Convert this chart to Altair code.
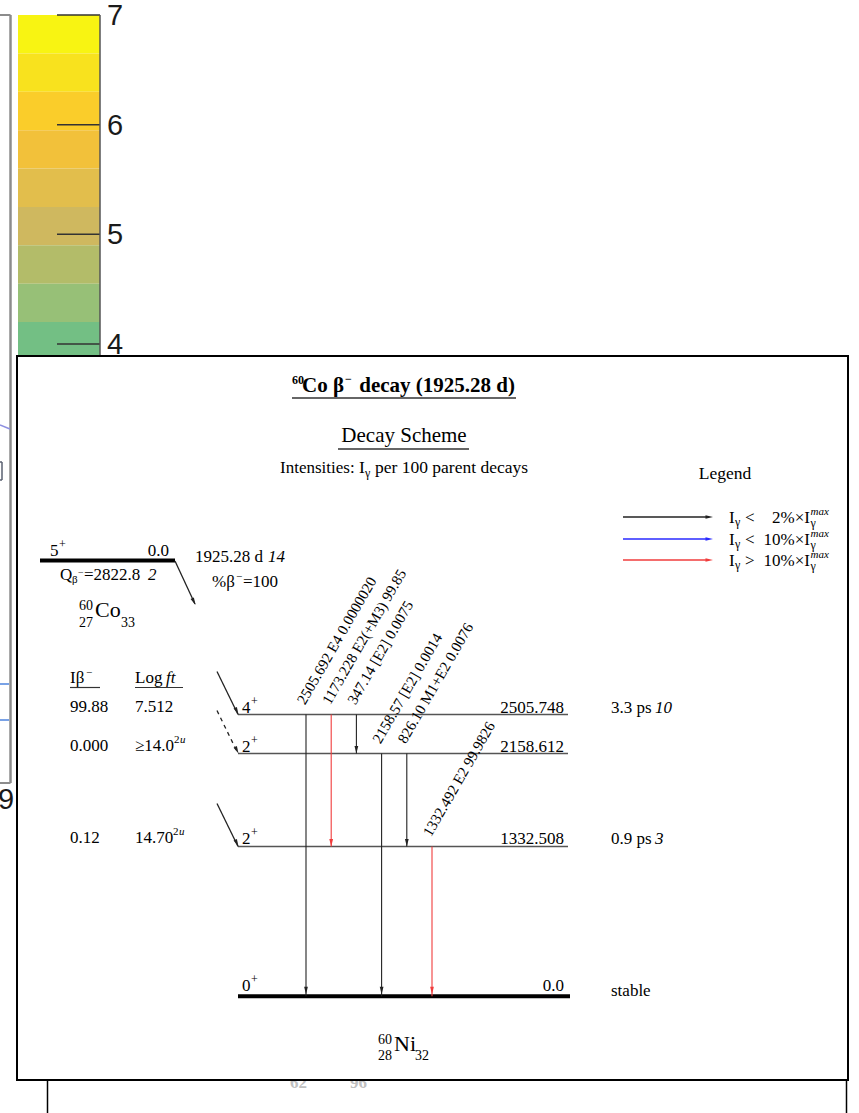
import altair as alt
import pandas as pd

W, H = 859, 1113
SERIF = "Liberation Serif"
SANS = "Liberation Sans"

# ======================= DATA =======================
cbar_ticks = [7, 6, 5, 4]
cbar_band_edges = [7.0, 6.65, 6.30, 5.95, 5.60, 5.25, 4.90, 4.55, 4.20, 3.85]
cbar_band_colors = ["#F8F412", "#F8E21E", "#FACD2A", "#F2C13A", "#E2BE4C",
                    "#CFB85F", "#B3BC69", "#97C077", "#73BF84"]

parent_spin = "5"
parent_level = "0.0"
parent_q = "2822.8"
parent_q_unc = "2"
parent_halflife = "1925.28 d"
parent_halflife_unc = "14"
parent_branch = "100"

level_energy = [2505.748, 2158.612, 1332.508, 0.0]
level_energy_txt = ["2505.748", "2158.612", "1332.508", "0.0"]
level_spin = ["4", "2", "2", "0"]
level_halflife = ["3.3 ps", "", "0.9 ps", "stable"]
level_halflife_unc = ["10", "", "3", ""]

beta_intensity = ["99.88", "0.000", "0.12"]
beta_logft = ["7.512", "\u226514.0", "14.70"]
beta_logft_sup = ["", "2", "2"]
beta_dashed = [False, True, False]

gamma_energy = ["2505.692", "1173.228", "347.14", "2158.57", "826.10", "1332.492"]
gamma_mult = ["E4", "E2(+M3)", "[E2]", "[E2]", "M1+E2", "E2"]
gamma_intensity = ["0.0000020", "99.85", "0.0075", "0.0014", "0.0076", "99.9826"]
gamma_from = [2505.748, 2505.748, 2505.748, 2158.612, 2158.612, 1332.508]
gamma_to = [0.0, 1332.508, 2158.612, 0.0, 1332.508, 0.0]

legend_ops = ["<", "<", ">"]
legend_pct = ["2%\u00d7I", "10%\u00d7I", "10%\u00d7I"]
legend_colors = ["#222222", "#2a2aff", "#f03c3c"]

# ======================= LAYOUT =======================
PX_E0, PX_ETOP = 996.3, 714.5          # pixel rows of 0 keV and the top level
k_e = (PX_E0 - PX_ETOP) / level_energy[0]
E_DOM = [-(H - PX_E0) / k_e, PX_E0 / k_e]
CB_PX_PER = (344 - 15) / 3.0
cb_top = 7 + 15 / CB_PX_PER
C_DOM = [cb_top - H / CB_PX_PER, cb_top]


def yscale(kind):
    if kind == "px":
        return alt.Scale(domain=[0, H], reverse=True, nice=False, zero=False)
    if kind == "E":
        return alt.Scale(domain=E_DOM, nice=False, zero=False)
    return alt.Scale(domain=C_DOM, nice=False, zero=False)


def X(f):
    return alt.X(f, type="quantitative", scale=alt.Scale(domain=[0, W], nice=False, zero=False), axis=None)


def Y(kind, f):
    return alt.Y(f, type="quantitative", scale=yscale(kind), axis=None)


def rule_layer(rows, kind, **mk):
    df = pd.DataFrame(rows, columns=["x", "x2", "y", "y2", "color", "w"])
    return alt.Chart(df).mark_rule(**mk).encode(
        x=X("x"), x2=alt.X2("x2"), y=Y(kind, "y"), y2=alt.Y2("y2"),
        color=alt.Color("color:N", scale=None),
        strokeWidth=alt.StrokeWidth("w:Q", scale=None))


HEAD = "M0,0L-0.5,-2L0.5,-2Z"


def head_layer(rows, kind, **mk):
    df = pd.DataFrame(rows, columns=["x", "y", "angle", "color"])
    return alt.Chart(df).mark_point(shape=HEAD, filled=True, opacity=1, size=56, strokeWidth=0, **mk).encode(
        x=X("x"), y=Y(kind, "y"),
        angle=alt.Angle("angle:Q", scale=None),
        color=alt.Color("color:N", scale=None))


def rect_layer(rows, kind, **mk):
    df = pd.DataFrame(rows, columns=["x", "x2", "y", "y2", "color"])
    return alt.Chart(df).mark_rect(**mk).encode(
        x=X("x"), x2=alt.X2("x2"), y=Y(kind, "y"), y2=alt.Y2("y2"),
        fill=alt.Fill("color:N", scale=None))


def text_layers(items):
    out = []
    df = pd.DataFrame(items)
    keys = ["kind", "align", "baseline", "font", "style", "weight", "yoff", "angle"]
    for key, g in df.groupby(keys, sort=False):
        kd = dict(zip(keys, key))
        mk = dict(font=kd["font"], fontStyle=kd["style"], fontWeight=kd["weight"],
                  align=kd["align"], baseline=kd["baseline"])
        if kd["yoff"] != 0:
            mk["yOffset"] = float(kd["yoff"])
        if kd["angle"] != 0:
            mk["angle"] = float(kd["angle"])
        out.append(alt.Chart(g[["x", "y", "text", "size", "color"]].reset_index(drop=True)).mark_text(**mk).encode(
            x=X("x"), y=Y(kd["kind"], "y"), text="text:N",
            size=alt.Size("size:Q", scale=None), color=alt.Color("color:N", scale=None)))
    return out


def make_T(store):
    def T(kind, text, x, y, size=17, align="left", baseline="alphabetic", font=SERIF,
          style="normal", weight="normal", color="black", yoff=0, angle=0):
        store.append(dict(kind=kind, text=text, x=x, y=y, size=size, align=align, baseline=baseline,
                          font=font, style=style, weight=weight, color=color, yoff=yoff, angle=angle))
    return T


layers = []

# ---------- background fragments (left) ----------
GRAY = "#8c8c8c"
layers.append(rule_layer([
    (10.5, 10.5, 15, 783, GRAY, 2.5),
    (0, 10.5, 15, 15, GRAY, 2),
    (0, 10.5, 783, 783, GRAY, 2),
    (0, 10, 425, 429, "#8d8fe0", 1.5),
    (0, 9, 684, 684, "#79a2e6", 2),
    (0, 9, 720, 720, "#79a2e6", 2),
    (2, 2, 462, 480, "#5a6070", 1.5),
    (0, 2, 462, 462, "#5a6070", 1.5),
    (0, 2, 480, 480, "#5a6070", 1.5),
], "px"))

# ---------- colorbar ----------
layers.append(rect_layer([(18, 100, cbar_band_edges[i], cbar_band_edges[i + 1], c)
                          for i, c in enumerate(cbar_band_colors)], "C"))
layers.append(rule_layer([(57, 100, v, v, "#333333", 1.5) for v in cbar_ticks] +
                         [(100, 100, cbar_band_edges[0], cbar_band_edges[-1], "#555555", 1.5)], "C"))
bg_texts = []
TB = make_T(bg_texts)
for v in cbar_ticks:
    TB("C", str(v), 107, v, 29, baseline="middle", font=SANS, color="#1a1a1a", yoff=1)
TB("px", "9", -2, 800, 29, baseline="middle", font=SANS, color="#1a1a1a")
TB("px", "62", 290, 1088, 17, color="#c0c0c0", weight="bold")
TB("px", "96", 350, 1088, 17, color="#c0c0c0", weight="bold")
layers.extend(text_layers(bg_texts))

# lower box behind the main one
layers.append(rule_layer([(47.5, 47.5, 1070, 1113, "black", 1.5),
                          (846.5, 846.5, 1070, 1113, "black", 1.5)], "px"))

# ---------- main box ----------
layers.append(rect_layer([(17, 848, 356, 1080, "white")], "px", stroke="black", strokeWidth=2))

texts = []
T = make_T(texts)

# ---------- titles ----------
T("px", "60", 292, 384, 12, weight="bold")
T("px", "Co", 302, 392, 21, weight="bold")
T("px", "\u03b2", 333, 392, 21, weight="bold")
T("px", "\u2212", 345, 383, 12, weight="bold")
T("px", "decay (1925.28 d)", 515, 392, 21, weight="bold", align="right")
T("px", "Decay Scheme", 404, 442, 21, align="center")
T("px", "Intensities:", 280, 473, 17)
T("px", "I", 359, 473, 17.5)
T("px", "\u03b3", 365, 477, 12)
T("px", "per 100 parent decays", 375, 473, 17.5)
T("px", "Legend", 725, 479, 17.5, align="center")

underlines = [(292, 516, 398, 398, "#333333", 1.5), (338, 469, 449, 449, "#333333", 1.5),
              (70, 100, 687.5, 687.5, "#333333", 1.2), (135, 183, 687.5, 687.5, "#333333", 1.2)]
layers.append(rule_layer(underlines, "px"))

# ---------- legend ----------
LEG_Y = [517, 539, 560]
layers.append(rule_layer([(623, 708, y, y, c, 1.6) for y, c in zip(LEG_Y, legend_colors)], "px"))
layers.append(head_layer([(713, y, 270, c) for y, c in zip(LEG_Y, legend_colors)], "px"))
for y, op, pct in zip(LEG_Y, legend_ops, legend_pct):
    T("px", "I", 729, y + 5.5, 17)
    T("px", "\u03b3", 735, y + 8.5, 12)
    T("px", op, 745, y + 5.5, 17)
    T("px", pct, 810, y + 5.5, 17, align="right")
    T("px", "\u03b3", 810.5, y + 9.5, 12)
    T("px", "max", 810.5, y - 2.5, 11, style="italic")

# ---------- parent ----------
layers.append(rule_layer([(40, 175, 560.5, 560.5, "black", 4),
                          (175, 195, 561, 604, "#222222", 1.3)], "px"))
layers.append(head_layer([(195.5, 605, 334, "#222222")], "px"))
T("px", parent_spin, 50, 556, 17)
T("px", "+", 59, 548, 12)
T("px", parent_level, 169, 556, 17, align="right")
T("px", "Q", 60, 580, 17)
T("px", "\u03b2", 72, 583, 11)
T("px", "\u2212", 78, 576, 10)
T("px", "=" + parent_q, 84, 580, 17)
T("px", parent_q_unc, 148, 580, 17, style="italic")
T("px", parent_halflife, 195, 562, 17)
T("px", parent_halflife_unc, 268, 562, 17, style="italic")
T("px", "%\u03b2", 212, 587, 17)
T("px", "\u2212", 236, 580, 11)
T("px", "=" + parent_branch, 243, 587, 17)
T("px", "Co", 95, 617, 22)
T("px", "60", 93, 610, 14, align="right")
T("px", "27", 93, 627, 14, align="right")
T("px", "33", 121, 627, 14)

# ---------- table header ----------
T("px", "I\u03b2", 70, 683, 17)
T("px", "\u2212", 86, 676, 11)
T("px", "Log ", 135, 683, 17)
T("px", "ft", 166, 683, 17, style="italic")

# ---------- daughter levels (energy scale) ----------
LV_X0, LV_X1 = 238, 568
lvl_rows = []
for i, e in enumerate(level_energy):
    if e == 0:
        lvl_rows.append((LV_X0, LV_X1 + 2, e, e, "black", 4))
    else:
        lvl_rows.append((LV_X0, LV_X1, e, e, "#555555", 1.4))
layers.append(rule_layer(lvl_rows, "E"))

LBL_YOFF = [-2, -2, -2, -5]
for i, e in enumerate(level_energy):
    T("E", level_spin[i], 242, e, 17, yoff=LBL_YOFF[i])
    T("E", "+", 251, e, 12, yoff=LBL_YOFF[i] - 8)
    T("E", level_energy_txt[i], 564, e, 17, align="right", yoff=LBL_YOFF[i])
    if level_halflife[i]:
        T("E", level_halflife[i], 611, e, 17, yoff=-2 if e > 0 else 0)
    if level_halflife_unc[i]:
        T("E", level_halflife_unc[i], 655, e, 17, style="italic", yoff=-2)

# beta feeding
SUP_X = [0, 174, 173]
for i in range(3):
    e = level_energy[i]
    T("E", beta_intensity[i], 70, e, 17, yoff=-3)
    T("E", beta_logft[i], 135, e, 17, yoff=-3)
    if beta_logft_sup[i]:
        T("E", beta_logft_sup[i], SUP_X[i], e, 11, yoff=-11)
        T("E", "u", SUP_X[i] + 6, e, 11, style="italic", yoff=-11)

solid = [(217, 238, level_energy[i], level_energy[i], "#222222", 1.3) for i in range(3) if not beta_dashed[i]]
dashed = [(217, 238, level_energy[i], level_energy[i], "#222222", 1.3) for i in range(3) if beta_dashed[i]]
layers.append(rule_layer(solid, "E", yOffset=-43))
layers.append(rule_layer(dashed, "E", yOffset=-43, strokeDash=[4, 4]))
layers.append(head_layer([(238.5, level_energy[i], 334, "#222222") for i in range(3)], "E"))

# gamma transitions
imax = max(float(v) for v in gamma_intensity)


def gcolor(v):
    v = float(v)
    if v > 0.10 * imax:
        return legend_colors[2]
    if v >= 0.02 * imax:
        return legend_colors[1]
    return legend_colors[0]


G_X0, G_DX = 306, 25.2
g_rows, g_heads = [], []
for j in range(len(gamma_energy)):
    gx = G_X0 + G_DX * j
    c = gcolor(gamma_intensity[j])
    g_rows.append((gx, gx, gamma_from[j], gamma_to[j], c, 1.1))
    g_heads.append((gx, gamma_to[j], 0, c))
    T("E", f"{gamma_energy[j]}  {gamma_mult[j]} {gamma_intensity[j]}", gx - 1, gamma_from[j], 15,
      yoff=-9, angle=300)
layers.append(rule_layer(g_rows, "E"))
layers.append(head_layer([h for h in g_heads if h[1] != 0], "E"))
layers.append(head_layer([h for h in g_heads if h[1] == 0], "E", yOffset=-2))

# daughter nucleus label
T("px", "Ni", 394, 1051, 22)
T("px", "60", 392, 1044, 14, align="right")
T("px", "28", 392, 1060, 14, align="right")
T("px", "32", 415, 1060, 14)

layers.extend(text_layers(texts))

chart = alt.layer(*layers).resolve_scale(y="independent").properties(
    width=W, height=H, autosize=alt.AutoSizeParams(type="none"), padding=0, background="white"
).configure_view(stroke=None)

chart.save("out.html", embed_options={"renderer": "svg", "actions": False})
